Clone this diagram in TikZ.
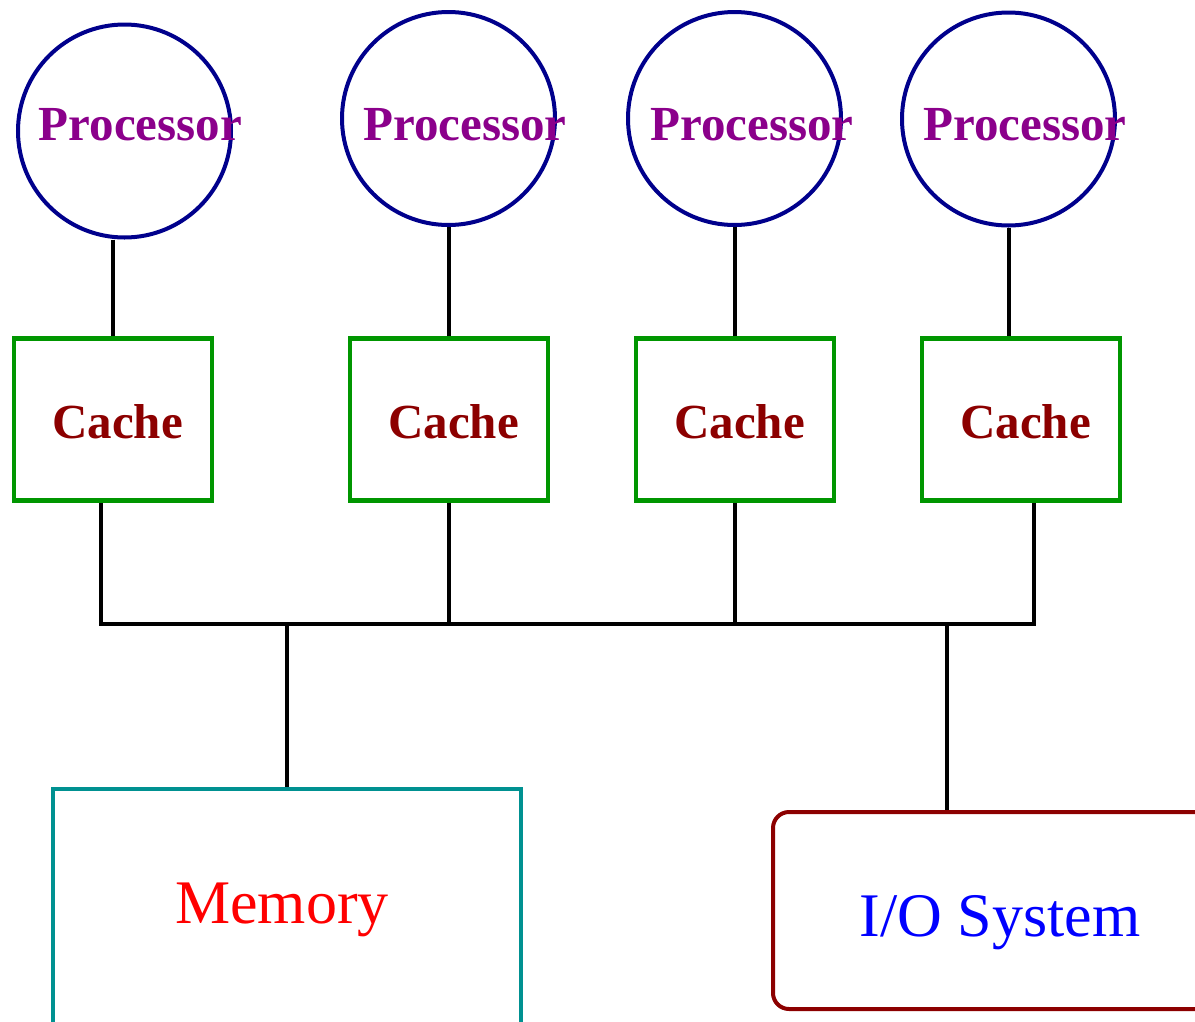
\documentclass[tikz,border=0pt]{standalone}
\usepackage{fontspec}
\setmainfont{Liberation Serif}
\definecolor{cnavy}{RGB}{0,0,140}
\definecolor{cgreen}{RGB}{0,150,0}
\definecolor{cteal}{RGB}{0,145,145}
\definecolor{cdred}{RGB}{140,0,0}
\definecolor{cpurple}{RGB}{139,0,139}
\tikzset{
  proc/.style={draw=cnavy, line width=4pt, circle, minimum size=213pt, inner sep=0pt},
  cachebox/.style={draw=cgreen, line width=4.5pt, rectangle, minimum width=198pt, minimum height=162pt, inner sep=0pt},
  proctext/.style={text=cpurple, inner sep=0pt, anchor=base, font=\fontsize{49}{50}\selectfont\bfseries},
  cachetext/.style={text=cdred, inner sep=0pt, anchor=base, font=\fontsize{49}{50}\selectfont\bfseries},
  bigtext/.style={inner sep=0pt, anchor=base, font=\fontsize{62}{64}\selectfont},
  wire/.style={draw=black, line width=4pt}
}
\begin{document}
\begin{tikzpicture}[x=1pt,y=-1pt]
\useasboundingbox (0,0) rectangle (1195,1021);
% processors
\node[proc] (p1) at (124.5,131) {};
\node[proc] (p2) at (448.5,118.5) {};
\node[proc] (p3) at (734.5,118.5) {};
\node[proc] (p4) at (1008.5,119) {};
\node[proctext] (pt1) at (140.5,140) {Processor};
\node[proctext] (pt2) at (465,140) {Processor};
\node[proctext] (pt3) at (752,140) {Processor};
\node[proctext] (pt4) at (1025,140) {Processor};
% caches
\node[cachebox] (c1) at (113,419.5) {};
\node[cachebox] (c2) at (449,419.5) {};
\node[cachebox] (c3) at (735,419.5) {};
\node[cachebox] (c4) at (1021,419.5) {};
\node[cachetext] (ct1) at (117.5,438) {Cache};
\node[cachetext] (ct2) at (453.5,438) {Cache};
\node[cachetext] (ct3) at (739.5,438) {Cache};
\node[cachetext] (ct4) at (1025.5,438) {Cache};
% memory and I/O
\node[draw=cteal, line width=4pt, rectangle, minimum width=468pt, minimum height=252pt, inner sep=0pt] (mem) at (287,914.5) {};
\node[bigtext, text=red] (memt) at (282,923) {Memory};
\node[draw=cdred, line width=4pt, rectangle, rounded corners=16pt, minimum width=467pt, minimum height=197pt, inner sep=0pt] (io) at (1006.5,910.5) {};
\node[bigtext, text=blue] (iot) at (1000,936) {I/O System};
% bus coordinates
\coordinate (b1) at (100.7,624);
\coordinate (b2) at (449,624);
\coordinate (b3) at (735,624);
\coordinate (b4) at (1033.7,624);
\coordinate (bm) at (287,624);
\coordinate (bi) at (946.7,624);
% processor to cache
\draw[wire] (c1.north) -- (c1.north |- p1.south);
\draw[wire] (c2.north) -- (c2.north |- p2.south);
\draw[wire] (c3.north) -- (c3.north |- p3.south);
\draw[wire] (p4.south) -- (p4.south |- c4.north);
% caches to bus
\draw[wire, line join=miter] (b1 |- c1.south) -- (b1) -- (b4) -- (b4 |- c4.south);
\draw[wire] (c2.south) -- (b2);
\draw[wire] (c3.south) -- (b3);
% bus to memory and I/O
\draw[wire] (bm) -- (mem.north);
\draw[wire] (bi) -- (bi |- io.north);
\end{tikzpicture}
\end{document}
